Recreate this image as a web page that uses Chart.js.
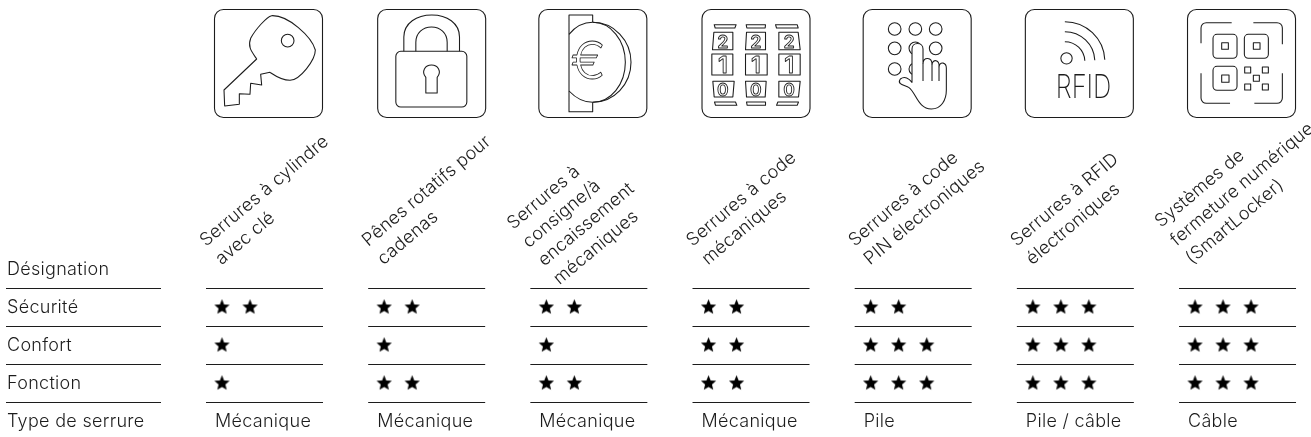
<!DOCTYPE html>
<html lang="fr"><head><meta charset="utf-8">
<style>html,body{margin:0;padding:0;background:#fff}canvas{display:block}</style>
<script src="https://cdn.jsdelivr.net/npm/chart.js@4"></script></head>
<body><canvas id="c" width="1311" height="437"></canvas>
<script>
const rowLabels = ['Désignation','Sécurité','Confort','Fonction','Type de serrure'];
const categories = [
  ['Serrures à cylindre','avec clé'],
  ['Pênes rotatifs pour','cadenas'],
  ['Serrures à','consigne/à','encaissement','mécaniques'],
  ['Serrures à code','mécaniques'],
  ['Serrures à code','PIN électroniques'],
  ['Serrures à RFID','électroniques'],
  ['Systèmes de','fermeture numérique','(SmartLocker)']
];
const securityStars = [2,2,2,2,2,3,3];
const comfortStars  = [1,1,1,2,3,3,3];
const functionStars = [1,2,2,2,3,3,3];
const lockTypes = ['Mécanique','Mécanique','Mécanique','Mécanique','Pile','Pile / câble','Câble'];

const INK = '#1c1c1c';
const FONT = '300 18px Inter, "Noto Sans", sans-serif';
const HEAD_FONT = '300 18px Inter, "Noto Sans", sans-serif';
const starStep = 0.1727;

function starCanvas(){
  const s=document.createElement('canvas'); s.width=17; s.height=17;
  const g=s.getContext('2d'); g.fillStyle='#000'; g.beginPath();
  for(let i=0;i<10;i++){
    const r=i%2?3.6:8, a=-Math.PI/2+i*Math.PI/5;
    const x=8.5+r*Math.cos(a), y=8.8+r*Math.sin(a);
    i?g.lineTo(x,y):g.moveTo(x,y);
  }
  g.closePath(); g.fill(); return s;
}
const star=starCanvas();
function starPoints(counts,row){
  const pts=[];
  counts.forEach((n,c)=>{for(let k=0;k<n;k++)pts.push({x:c+k*starStep,y:row});});
  return pts;
}
function rr(g,x,y,w,h,r){g.beginPath();g.roundRect(x,y,w,h,r);g.stroke();}
function poly(g,p,close){g.beginPath();p.forEach((q,i)=>i?g.lineTo(q[0],q[1]):g.moveTo(q[0],q[1]));if(close)g.closePath();g.stroke();}

const icons=[
 g=>{ // key
  g.translate(-12,-12);
  g.beginPath();g.moveTo(42,255);g.lineTo(140,162);
  g.bezierCurveTo(125,140,112,125,122,100);g.bezierCurveTo(135,75,170,35,185,32);
  g.bezierCurveTo(235,30,305,95,316,135);g.bezierCurveTo(316,165,270,225,240,226);
  g.bezierCurveTo(215,226,195,212,180,202);
  g.lineTo(152,208);g.lineTo(155,240);g.lineTo(122,235);g.lineTo(120,268);g.lineTo(88,266);g.lineTo(88,298);g.lineTo(44,303);g.closePath();g.stroke();
  g.beginPath();g.arc(233,107,19,0,7);g.stroke();
 },
 g=>{ // padlock
  g.translate(-1131,-28);
  g.beginPath();g.roundRect(1187,155,213,167,15);g.stroke();
  g.beginPath();g.moveTo(1211,155);g.lineTo(1211,112);g.bezierCurveTo(1211,70,1250,46,1295,46);g.bezierCurveTo(1340,46,1378,70,1378,112);g.lineTo(1378,155);g.stroke();
  g.beginPath();g.moveTo(1247,155);g.lineTo(1247,128);g.bezierCurveTo(1247,100,1268,82,1294,82);g.bezierCurveTo(1320,82,1341,100,1341,128);g.lineTo(1341,155);g.stroke();
  g.beginPath();g.moveTo(1277,280);g.lineTo(1277,233);g.bezierCurveTo(1262,215,1275,196,1294,196);g.bezierCurveTo(1313,196,1326,215,1311,233);g.lineTo(1311,280);g.closePath();g.stroke();
 },
 g=>{ // coin
  g.translate(-24,-12);
  poly(g,[[187,52],[187,30],[116,30],[116,320],[187,320],[187,292]]);
  g.beginPath();g.moveTo(116,88);g.bezierCurveTo(135,65,160,52,187,52);g.stroke();
  g.beginPath();g.moveTo(116,258);g.bezierCurveTo(135,278,160,292,187,292);g.stroke();
  g.beginPath();g.ellipse(187,172,98,120,0,-Math.PI/2,Math.PI/2);g.stroke();
  g.beginPath();g.ellipse(187,172,115,120,0,-Math.PI/2,Math.PI/2);g.stroke();
  g.lineWidth=2.4;g.textAlign='center';g.textBaseline='middle';
  g.font='300 158px Inter, "Noto Sans", sans-serif';g.strokeText('€',174,174);
 },
 g=>{ // mechanical code reels
  g.translate(-603,-28);
  [[[641,75],[707,75],[703,85],[644,85]],[[737,75],[795,75],[794,85],[739,85]],[[825,75],[890,75],[893,85],[828,85]],
   [[640,98],[697,98],[697,150],[636,150]],[[738,98],[795,98],[795,150],[735,150]],[[835,98],[893,98],[899,150],[835,150]],
   [[634,163],[697,163],[697,226],[634,226]],[[735,163],[800,163],[800,226],[735,226]],[[835,163],[899,163],[899,226],[835,226]],
   [[637,245],[701,245],[697,292],[641,292]],[[735,245],[797,245],[794,292],[738,292]],[[835,245],[899,245],[894,292],[835,292]],
   [[642,307],[705,307],[709,317],[645,317]],[[738,307],[795,307],[795,317],[740,317]],[[832,307],[894,307],[890,317],[828,317]]
  ].forEach(p=>poly(g,p,true));
  g.lineWidth=2.6;g.textAlign='center';g.textBaseline='alphabetic';
  const dig=[['2',144,54],['1',221,70],['0',288,53]];
  [667,766,866].forEach(x=>dig.forEach(d=>{g.font='600 '+d[2]+'px Inter, sans-serif';g.strokeText(d[0],x,d[1]);}));
 },
 g=>{ // pin pad + hand
  g.translate(-39,-12);
  [[135,72],[197,72],[258,72],[135,130],[197,130],[258,130],[135,192],[197,192]].forEach(c=>{g.beginPath();g.arc(c[0],c[1],19,0,7);g.stroke();});
  g.beginPath();g.moveTo(152,222);g.bezierCurveTo(165,212,178,220,187,232);g.lineTo(187,132);g.bezierCurveTo(187,110,220,110,220,132);g.lineTo(220,175);
  g.bezierCurveTo(222,155,247,155,247,178);g.bezierCurveTo(250,160,270,165,268,185);g.bezierCurveTo(272,168,290,172,290,190);g.lineTo(290,255);
  g.bezierCurveTo(290,285,275,312,245,312);g.bezierCurveTo(205,312,200,265,178,248);g.bezierCurveTo(165,240,140,238,152,222);g.closePath();
  g.fillStyle='#fff';g.fill();g.stroke();
  poly(g,[[220,175],[220,228]]);poly(g,[[247,178],[247,228]]);poly(g,[[268,185],[268,228]]);
 },
 g=>{ // RFID
  g.translate(-30,-12);
  g.beginPath();g.arc(155,160,17,0,7);g.stroke();
  [60,90,120].forEach(r=>{g.beginPath();g.arc(150,170,r,-Math.PI/2,-0.05);g.stroke();});
  g.save();g.translate(206,279);g.scale(0.78,1);g.textAlign='center';g.textBaseline='alphabetic';g.fillStyle=INK;
  g.font='200 98px Inter, sans-serif';g.fillText('RFID',0,0);g.restore();
 },
 g=>{ // digital lock
  g.translate(-36,-12);
  g.beginPath();g.moveTo(78,115);g.lineTo(78,70);g.arcTo(78,53,95,53,16);g.lineTo(170,53);g.stroke();
  g.beginPath();g.moveTo(235,53);g.lineTo(305,53);g.arcTo(322,53,322,70,16);g.lineTo(322,118);g.stroke();
  g.beginPath();g.moveTo(78,205);g.lineTo(78,278);g.arcTo(78,295,95,295,16);g.lineTo(165,295);g.stroke();
  g.beginPath();g.moveTo(238,295);g.lineTo(305,295);g.arcTo(322,295,322,278,16);g.lineTo(322,205);g.stroke();
  rr(g,114,88,72,72,12);rr(g,208,88,72,72,12);rr(g,114,184,72,72,12);
  [[140,113,20,20],[235,113,20,20],[140,210,22,22],[209,186,18,18],[262,186,18,18],[235,211,18,18],[209,237,18,18],[262,237,18,18]].forEach(r=>{g.beginPath();g.rect(r[0],r[1],r[2],r[3]);g.stroke();});
 }
];
const iconOffset=[-8,-7,-8,-7,-8,-8,-8];
const HEAD={2:[0,247],3:[-18,228],4:[-17,230]};

const tablePlugin={id:'table',afterDraw(ch){
  const g=ch.ctx,X=ch.scales.x,Y=ch.scales.y;
  g.save();
  g.strokeStyle=INK;g.lineWidth=1.2;
  for(let r=0;r<4;r++){
    const y=Math.round(Y.getPixelForValue(r+0.5))+0.5;
    g.beginPath();g.moveTo(6,y);g.lineTo(161,y);g.stroke();
    categories.forEach((_,c)=>{const x=X.getPixelForValue(c);g.beginPath();g.moveTo(x-16,y);g.lineTo(x+101,y);g.stroke();});
  }
  g.fillStyle=INK;g.font=FONT;g.letterSpacing='0.3px';g.textAlign='left';g.textBaseline='middle';
  rowLabels.forEach((t,r)=>g.fillText(t,7,Y.getPixelForValue(r)+1));
  lockTypes.forEach((t,c)=>g.fillText(t,X.getPixelForValue(c)-7,Y.getPixelForValue(4)+1));
  g.font=HEAD_FONT;g.letterSpacing='0.2px';
  const ang=-40*Math.PI/180,step=24;
  categories.forEach((lines,c)=>{
    const x0=X.getPixelForValue(c)-16+HEAD[lines.length][0], y0=HEAD[lines.length][1];
    lines.forEach((t,i)=>{
      g.save();g.translate(x0+i*step*Math.sin(-ang),y0+i*step*Math.cos(-ang));g.rotate(ang);
      g.textBaseline='alphabetic';g.fillText(t,0,0);g.restore();
    });
  });
  g.letterSpacing='0px';
  categories.forEach((_,c)=>{
    const ox=X.getPixelForValue(c)+iconOffset[c],oy=9;
    g.save();g.strokeStyle=INK;g.lineWidth=1.1;g.lineJoin='round';
    g.beginPath();g.roundRect(ox+.5,oy+.5,108,108,9);g.stroke();
    g.translate(ox,oy);g.scale(1/3,1/3);g.lineWidth=3.2;
    icons[c](g);
    g.restore();
  });
  g.restore();
}};

new Chart(document.getElementById('c'),{
  type:'scatter',
  data:{datasets:[
    {label:rowLabels[1],data:starPoints(securityStars,1)},
    {label:rowLabels[2],data:starPoints(comfortStars,2)},
    {label:rowLabels[3],data:starPoints(functionStars,3)}
  ].map(d=>Object.assign(d,{pointStyle:star,pointRadius:8,pointHoverRadius:8,showLine:false}))},
  options:{
    responsive:false,animation:false,
    layout:{padding:0,autoPadding:false},
    plugins:{legend:{display:false},tooltip:{enabled:false}},
    scales:{
      x:{type:'linear',display:false,bounds:'data',min:-222/162.17,max:(1311-222)/162.17},
      y:{type:'linear',display:false,bounds:'data',reverse:true,min:-269/38,max:(437-269)/38}
    }
  },
  plugins:[tablePlugin]
});
</script></body></html>
